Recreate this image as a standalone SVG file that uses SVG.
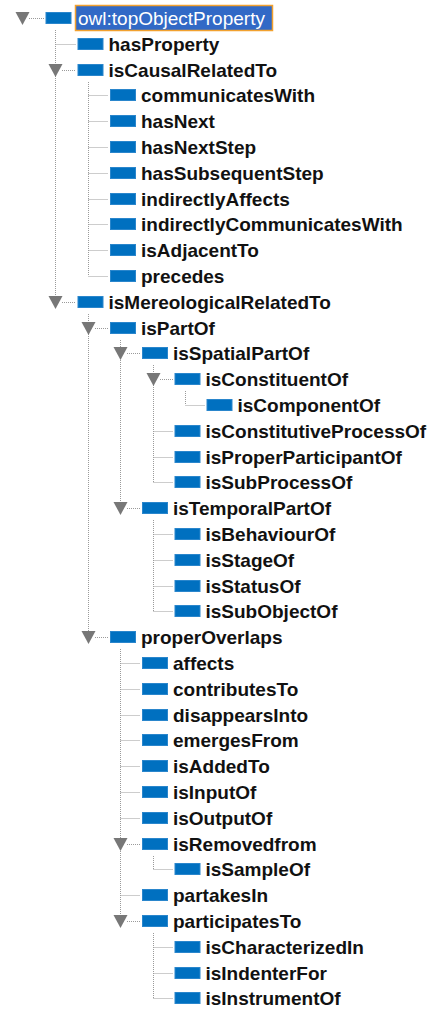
<svg xmlns="http://www.w3.org/2000/svg" width="440" height="1010" viewBox="0 0 440 1010">
  <defs>
    <style>
      .conn { stroke: #9a9a9a; stroke-width: 1; stroke-dasharray: 1 1; fill: none; }
      .icon { fill: #0070c0; stroke: #2a86cc; stroke-width: 1; }
      .toggle { fill: #777777; }
      .label { font-family: "Liberation Sans", Arial, sans-serif; font-weight: bold; font-size: 19px; fill: #111111; }
      .root-label { font-family: "Liberation Sans", Arial, sans-serif; font-size: 19px; fill: #ffffff; }
      .selection { fill: #3169c6; stroke: #f2a12e; stroke-width: 1.5; }
    </style>
  </defs>
  <rect width="440" height="1010" fill="#ffffff"/>

  <!-- dotted tree connectors -->
  <g id="connectors">
    <!-- owl:topObjectProperty -->
    <line class="conn" x1="29" y1="18.5" x2="44" y2="18.5"/>
    <line class="conn" x1="55.5" y1="30" x2="55.5" y2="296"/>
    <line class="conn" x1="55.5" y1="44.5" x2="76" y2="44.5"/>
    <line class="conn" x1="62" y1="70.5" x2="76" y2="70.5"/>
    <line class="conn" x1="62" y1="302.5" x2="76" y2="302.5"/>
    <!-- isCausalRelatedTo -->
    <line class="conn" x1="88.5" y1="82" x2="88.5" y2="276"/>
    <line class="conn" x1="88.5" y1="95.5" x2="108.5" y2="95.5"/>
    <line class="conn" x1="88.5" y1="121.5" x2="108.5" y2="121.5"/>
    <line class="conn" x1="88.5" y1="147.5" x2="108.5" y2="147.5"/>
    <line class="conn" x1="88.5" y1="173.5" x2="108.5" y2="173.5"/>
    <line class="conn" x1="88.5" y1="199.5" x2="108.5" y2="199.5"/>
    <line class="conn" x1="88.5" y1="224.5" x2="108.5" y2="224.5"/>
    <line class="conn" x1="88.5" y1="250.5" x2="108.5" y2="250.5"/>
    <line class="conn" x1="88.5" y1="276.5" x2="108.5" y2="276.5"/>
    <!-- isMereologicalRelatedTo -->
    <line class="conn" x1="88.5" y1="314" x2="88.5" y2="631"/>
    <line class="conn" x1="95" y1="328.5" x2="108.5" y2="328.5"/>
    <line class="conn" x1="95" y1="637.5" x2="108.5" y2="637.5"/>
    <!-- isPartOf -->
    <line class="conn" x1="120.5" y1="340" x2="120.5" y2="502"/>
    <line class="conn" x1="127" y1="353.5" x2="140.5" y2="353.5"/>
    <line class="conn" x1="127" y1="508.5" x2="140.5" y2="508.5"/>
    <!-- isSpatialPartOf -->
    <line class="conn" x1="153.5" y1="365" x2="153.5" y2="482"/>
    <line class="conn" x1="160" y1="379.5" x2="173" y2="379.5"/>
    <line class="conn" x1="153.5" y1="431.5" x2="173" y2="431.5"/>
    <line class="conn" x1="153.5" y1="457.5" x2="173" y2="457.5"/>
    <line class="conn" x1="153.5" y1="482.5" x2="173" y2="482.5"/>
    <!-- isConstituentOf -->
    <line class="conn" x1="185.5" y1="391" x2="185.5" y2="405"/>
    <line class="conn" x1="185.5" y1="405.5" x2="205" y2="405.5"/>
    <!-- isTemporalPartOf -->
    <line class="conn" x1="153.5" y1="520" x2="153.5" y2="611"/>
    <line class="conn" x1="153.5" y1="534.5" x2="173" y2="534.5"/>
    <line class="conn" x1="153.5" y1="560.5" x2="173" y2="560.5"/>
    <line class="conn" x1="153.5" y1="586.5" x2="173" y2="586.5"/>
    <line class="conn" x1="153.5" y1="611.5" x2="173" y2="611.5"/>
    <!-- properOverlaps -->
    <line class="conn" x1="120.5" y1="649" x2="120.5" y2="915"/>
    <line class="conn" x1="120.5" y1="663.5" x2="140.5" y2="663.5"/>
    <line class="conn" x1="120.5" y1="689.5" x2="140.5" y2="689.5"/>
    <line class="conn" x1="120.5" y1="715.5" x2="140.5" y2="715.5"/>
    <line class="conn" x1="120.5" y1="740.5" x2="140.5" y2="740.5"/>
    <line class="conn" x1="120.5" y1="766.5" x2="140.5" y2="766.5"/>
    <line class="conn" x1="120.5" y1="792.5" x2="140.5" y2="792.5"/>
    <line class="conn" x1="120.5" y1="818.5" x2="140.5" y2="818.5"/>
    <line class="conn" x1="127" y1="844.5" x2="140.5" y2="844.5"/>
    <line class="conn" x1="120.5" y1="895.5" x2="140.5" y2="895.5"/>
    <line class="conn" x1="127" y1="921.5" x2="140.5" y2="921.5"/>
    <!-- isRemovedfrom -->
    <line class="conn" x1="153.5" y1="856" x2="153.5" y2="869"/>
    <line class="conn" x1="153.5" y1="869.5" x2="173" y2="869.5"/>
    <!-- participatesTo -->
    <line class="conn" x1="153.5" y1="933" x2="153.5" y2="998"/>
    <line class="conn" x1="153.5" y1="947.5" x2="173" y2="947.5"/>
    <line class="conn" x1="153.5" y1="973.5" x2="173" y2="973.5"/>
    <line class="conn" x1="153.5" y1="998.5" x2="173" y2="998.5"/>
  </g>

  <!-- property nodes -->
  <g id="node-topObjectProperty">
    <polygon class="toggle" points="15.5,12 29.5,12 22.5,25"/>
    <rect class="icon" x="46" y="12.5" width="25" height="11"/>
    <rect class="selection" x="75.5" y="5.5" width="197" height="25"/>
    <text class="root-label" x="78" y="25">owl:topObjectProperty</text>
  </g>
  <g id="node-hasProperty">
    <rect class="icon" x="78" y="38.5" width="25" height="11"/>
    <text class="label" x="108.5" y="50.5">hasProperty</text>
  </g>
  <g id="node-isCausalRelatedTo">
    <polygon class="toggle" points="48.5,64 62.5,64 55.5,77"/>
    <rect class="icon" x="78" y="64.5" width="25" height="11"/>
    <text class="label" x="108.5" y="76.5">isCausalRelatedTo</text>
  </g>
  <g id="node-communicatesWith">
    <rect class="icon" x="110.5" y="89.5" width="25" height="11"/>
    <text class="label" x="141" y="101.5">communicatesWith</text>
  </g>
  <g id="node-hasNext">
    <rect class="icon" x="110.5" y="115.5" width="25" height="11"/>
    <text class="label" x="141" y="127.5">hasNext</text>
  </g>
  <g id="node-hasNextStep">
    <rect class="icon" x="110.5" y="141.5" width="25" height="11"/>
    <text class="label" x="141" y="153.5">hasNextStep</text>
  </g>
  <g id="node-hasSubsequentStep">
    <rect class="icon" x="110.5" y="167.5" width="25" height="11"/>
    <text class="label" x="141" y="179.5">hasSubsequentStep</text>
  </g>
  <g id="node-indirectlyAffects">
    <rect class="icon" x="110.5" y="193.5" width="25" height="11"/>
    <text class="label" x="141" y="205.5">indirectlyAffects</text>
  </g>
  <g id="node-indirectlyCommunicatesWith">
    <rect class="icon" x="110.5" y="218.5" width="25" height="11"/>
    <text class="label" x="141" y="230.5">indirectlyCommunicatesWith</text>
  </g>
  <g id="node-isAdjacentTo">
    <rect class="icon" x="110.5" y="244.5" width="25" height="11"/>
    <text class="label" x="141" y="256.5">isAdjacentTo</text>
  </g>
  <g id="node-precedes">
    <rect class="icon" x="110.5" y="270.5" width="25" height="11"/>
    <text class="label" x="141" y="282.5">precedes</text>
  </g>
  <g id="node-isMereologicalRelatedTo">
    <polygon class="toggle" points="48.5,296 62.5,296 55.5,309"/>
    <rect class="icon" x="78" y="296.5" width="25" height="11"/>
    <text class="label" x="108.5" y="308.5">isMereologicalRelatedTo</text>
  </g>
  <g id="node-isPartOf">
    <polygon class="toggle" points="81.5,322 95.5,322 88.5,335"/>
    <rect class="icon" x="110.5" y="322.5" width="25" height="11"/>
    <text class="label" x="141" y="334.5">isPartOf</text>
  </g>
  <g id="node-isSpatialPartOf">
    <polygon class="toggle" points="113.5,347 127.5,347 120.5,360"/>
    <rect class="icon" x="142.5" y="347.5" width="25" height="11"/>
    <text class="label" x="173" y="359.5">isSpatialPartOf</text>
  </g>
  <g id="node-isConstituentOf">
    <polygon class="toggle" points="146.5,373 160.5,373 153.5,386"/>
    <rect class="icon" x="175" y="373.5" width="25" height="11"/>
    <text class="label" x="205.5" y="385.5">isConstituentOf</text>
  </g>
  <g id="node-isComponentOf">
    <rect class="icon" x="207" y="399.5" width="25" height="11"/>
    <text class="label" x="237.5" y="411.5">isComponentOf</text>
  </g>
  <g id="node-isConstitutiveProcessOf">
    <rect class="icon" x="175" y="425.5" width="25" height="11"/>
    <text class="label" x="205.5" y="437.5">isConstitutiveProcessOf</text>
  </g>
  <g id="node-isProperParticipantOf">
    <rect class="icon" x="175" y="451.5" width="25" height="11"/>
    <text class="label" x="205.5" y="463.5">isProperParticipantOf</text>
  </g>
  <g id="node-isSubProcessOf">
    <rect class="icon" x="175" y="476.5" width="25" height="11"/>
    <text class="label" x="205.5" y="488.5">isSubProcessOf</text>
  </g>
  <g id="node-isTemporalPartOf">
    <polygon class="toggle" points="113.5,502 127.5,502 120.5,515"/>
    <rect class="icon" x="142.5" y="502.5" width="25" height="11"/>
    <text class="label" x="173" y="514.5">isTemporalPartOf</text>
  </g>
  <g id="node-isBehaviourOf">
    <rect class="icon" x="175" y="528.5" width="25" height="11"/>
    <text class="label" x="205.5" y="540.5">isBehaviourOf</text>
  </g>
  <g id="node-isStageOf">
    <rect class="icon" x="175" y="554.5" width="25" height="11"/>
    <text class="label" x="205.5" y="566.5">isStageOf</text>
  </g>
  <g id="node-isStatusOf">
    <rect class="icon" x="175" y="580.5" width="25" height="11"/>
    <text class="label" x="205.5" y="592.5">isStatusOf</text>
  </g>
  <g id="node-isSubObjectOf">
    <rect class="icon" x="175" y="605.5" width="25" height="11"/>
    <text class="label" x="205.5" y="617.5">isSubObjectOf</text>
  </g>
  <g id="node-properOverlaps">
    <polygon class="toggle" points="81.5,631 95.5,631 88.5,644"/>
    <rect class="icon" x="110.5" y="631.5" width="25" height="11"/>
    <text class="label" x="141" y="643.5">properOverlaps</text>
  </g>
  <g id="node-affects">
    <rect class="icon" x="142.5" y="657.5" width="25" height="11"/>
    <text class="label" x="173" y="669.5">affects</text>
  </g>
  <g id="node-contributesTo">
    <rect class="icon" x="142.5" y="683.5" width="25" height="11"/>
    <text class="label" x="173" y="695.5">contributesTo</text>
  </g>
  <g id="node-disappearsInto">
    <rect class="icon" x="142.5" y="709.5" width="25" height="11"/>
    <text class="label" x="173" y="721.5">disappearsInto</text>
  </g>
  <g id="node-emergesFrom">
    <rect class="icon" x="142.5" y="734.5" width="25" height="11"/>
    <text class="label" x="173" y="746.5">emergesFrom</text>
  </g>
  <g id="node-isAddedTo">
    <rect class="icon" x="142.5" y="760.5" width="25" height="11"/>
    <text class="label" x="173" y="772.5">isAddedTo</text>
  </g>
  <g id="node-isInputOf">
    <rect class="icon" x="142.5" y="786.5" width="25" height="11"/>
    <text class="label" x="173" y="798.5">isInputOf</text>
  </g>
  <g id="node-isOutputOf">
    <rect class="icon" x="142.5" y="812.5" width="25" height="11"/>
    <text class="label" x="173" y="824.5">isOutputOf</text>
  </g>
  <g id="node-isRemovedfrom">
    <polygon class="toggle" points="113.5,838 127.5,838 120.5,851"/>
    <rect class="icon" x="142.5" y="838.5" width="25" height="11"/>
    <text class="label" x="173" y="850.5">isRemovedfrom</text>
  </g>
  <g id="node-isSampleOf">
    <rect class="icon" x="175" y="863.5" width="25" height="11"/>
    <text class="label" x="205.5" y="875.5">isSampleOf</text>
  </g>
  <g id="node-partakesIn">
    <rect class="icon" x="142.5" y="889.5" width="25" height="11"/>
    <text class="label" x="173" y="901.5">partakesIn</text>
  </g>
  <g id="node-participatesTo">
    <polygon class="toggle" points="113.5,915 127.5,915 120.5,928"/>
    <rect class="icon" x="142.5" y="915.5" width="25" height="11"/>
    <text class="label" x="173" y="927.5">participatesTo</text>
  </g>
  <g id="node-isCharacterizedIn">
    <rect class="icon" x="175" y="941.5" width="25" height="11"/>
    <text class="label" x="205.5" y="953.5">isCharacterizedIn</text>
  </g>
  <g id="node-isIndenterFor">
    <rect class="icon" x="175" y="967.5" width="25" height="11"/>
    <text class="label" x="205.5" y="979.5">isIndenterFor</text>
  </g>
  <g id="node-isInstrumentOf">
    <rect class="icon" x="175" y="992.5" width="25" height="11"/>
    <text class="label" x="205.5" y="1004.5">isInstrumentOf</text>
  </g>
</svg>
